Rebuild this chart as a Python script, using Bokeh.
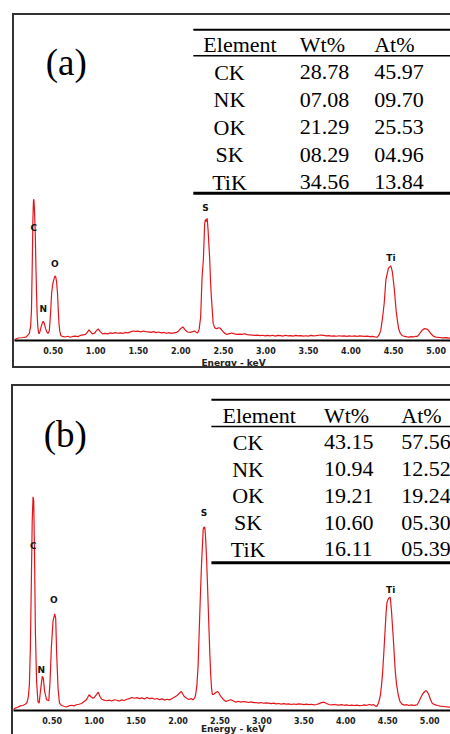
from bokeh.plotting import figure
from bokeh.models import Range1d, FixedTicker, PrintfTickFormatter
from bokeh.layouts import column
from bokeh.embed import file_html
from bokeh.resources import INLINE
from bokeh.core.properties import value

# ---------------- data ----------------
energy_a = [0.035, 0.06, 0.09, 0.12, 0.15, 0.18, 0.20, 0.22, 0.235, 0.245, 0.255, 0.262, 0.268, 0.273,
            0.279, 0.285, 0.29, 0.298, 0.305, 0.312, 0.32, 0.328, 0.335, 0.345, 0.36, 0.375, 0.385,
            0.395, 0.41, 0.425, 0.44, 0.455, 0.47, 0.482, 0.495, 0.51, 0.522, 0.53, 0.54, 0.55, 0.56,
            0.568, 0.578, 0.59, 0.61, 0.64, 0.67, 0.70, 0.73, 0.76, 0.79, 0.82, 0.85, 0.88, 0.905,
            0.92, 0.935, 0.96, 0.99, 1.01, 1.03, 1.05, 1.08, 1.11, 1.14, 1.17, 1.20, 1.23, 1.26, 1.29,
            1.32, 1.35, 1.38, 1.41, 1.44, 1.47, 1.50, 1.53, 1.56, 1.59, 1.62, 1.65, 1.68, 1.71, 1.74,
            1.77, 1.80, 1.83, 1.86, 1.89, 1.92, 1.95, 1.98, 2.00, 2.025, 2.05, 2.08, 2.11, 2.14, 2.16,
            2.18, 2.20, 2.215, 2.233, 2.25, 2.265, 2.28, 2.29, 2.30, 2.31, 2.32, 2.33, 2.34, 2.35,
            2.36, 2.37, 2.38, 2.40, 2.42, 2.44, 2.46, 2.48, 2.50, 2.52, 2.54, 2.57, 2.60, 2.63, 2.66,
            2.69, 2.72, 2.75, 2.78, 2.81, 2.84, 2.87, 2.90, 2.93, 2.96, 2.99, 3.02, 3.05, 3.08, 3.11,
            3.14, 3.17, 3.20, 3.23, 3.26, 3.29, 3.32, 3.35, 3.38, 3.41, 3.44, 3.47, 3.50, 3.53, 3.56,
            3.59, 3.62, 3.65, 3.68, 3.71, 3.74, 3.77, 3.80, 3.83, 3.86, 3.89, 3.92, 3.95, 3.98, 4.01,
            4.04, 4.07, 4.10, 4.13, 4.16, 4.19, 4.22, 4.25, 4.28, 4.31, 4.33, 4.35, 4.37, 4.39, 4.41,
            4.425, 4.44, 4.455, 4.465, 4.475, 4.485, 4.50, 4.51, 4.52, 4.53, 4.545, 4.56, 4.58, 4.60,
            4.63, 4.66, 4.68, 4.71, 4.74, 4.76, 4.78, 4.80, 4.82, 4.84, 4.86, 4.88, 4.90, 4.92, 4.94,
            4.96, 4.98, 5.00, 5.04, 5.08, 5.12, 5.16, 5.20]
counts_a = [1.0, 1.5, 2.5, 2.7, 3.0, 3.4, 5.0, 7.0, 14, 30, 80, 120, 138, 140,
            132, 118, 105, 70, 45, 25, 13, 8, 6.7, 9, 14, 18, 19,
            17, 12, 8.5, 7, 10, 28, 47, 56, 61, 64, 63, 58, 48, 30,
            17, 9, 5, 4, 3.5, 4.2, 3.2, 4.0, 4.4, 3.8, 5.0, 5.5, 6.0, 8.5,
            10.5, 9, 6.5, 7.5, 10, 11.5, 9, 6.5, 7, 6.5, 7.5, 7, 7.8, 7.2, 7.6,
            7.0, 8.0, 7.5, 8.5, 9.4, 9.0, 9.2, 8.6, 9.4, 8.8, 8.5, 8.0, 8.8, 7.8, 8.4,
            7.6, 8.0, 7.2, 7.8, 7.0, 7.6, 8.0, 10, 12, 13.4, 10.5, 8.4, 8.0, 8.8, 9.4,
            8.2, 7.6, 11, 23, 63, 80, 115, 120, 118, 121, 110, 95, 80, 57,
            42, 30, 17, 12.5, 11.7, 12.5, 12.4, 10.5, 8.4, 7.0, 6.0, 6.8, 7.4, 6.6, 6.0,
            6.4, 6.0, 6.7, 5.8, 5.6, 5.4, 5.0, 5.4, 4.8, 5.2, 4.6, 5.0, 4.6, 5.2, 4.4,
            5.0, 4.8, 4.4, 5.2, 4.6, 4.9, 4.4, 5.0, 4.5, 4.8, 4.3, 4.7, 4.4, 5.0, 4.6,
            4.8, 5.2, 5.4, 5.0, 4.6, 4.9, 4.3, 4.6, 4.2, 4.7, 4.3, 4.5, 4.1, 4.6, 4.2,
            4.5, 4.0, 4.6, 4.4, 4.0, 4.3, 3.8, 4.1, 3.6, 3.4, 5.5, 10, 22, 36.7, 60,
            66, 71.7, 73, 74, 72, 68.4, 58, 50, 40, 30, 20, 11.7, 7, 5,
            4, 3.6, 3.4, 3.8, 3.5, 4.2, 4, 6, 8.4, 10.5, 11.7, 11.5, 11, 9, 6.7,
            5, 3.8, 3.4, 3.0, 2.6, 2.8, 2.4, 2.4]

energy_b = [0.03, 0.06, 0.09, 0.12, 0.15, 0.18, 0.20, 0.215, 0.228, 0.24, 0.252, 0.262, 0.272, 0.28,
            0.29, 0.30, 0.314, 0.33, 0.345, 0.362, 0.382, 0.394, 0.41, 0.434, 0.46, 0.475, 0.49,
            0.51, 0.53, 0.542, 0.554, 0.57, 0.587, 0.61, 0.64, 0.67, 0.70, 0.73, 0.76, 0.79, 0.82,
            0.85, 0.88, 0.91, 0.94, 0.96, 0.98, 1.00, 1.03, 1.05, 1.07, 1.09, 1.12, 1.15, 1.18, 1.21,
            1.24, 1.27, 1.30, 1.33, 1.36, 1.39, 1.42, 1.45, 1.48, 1.51, 1.54, 1.57, 1.60, 1.63, 1.66,
            1.69, 1.72, 1.75, 1.78, 1.81, 1.84, 1.87, 1.90, 1.93, 1.96, 1.99, 2.02, 2.04, 2.07, 2.10,
            2.13, 2.16, 2.18, 2.20, 2.21, 2.225, 2.24, 2.255, 2.27, 2.28, 2.29, 2.30, 2.31, 2.32, 2.33,
            2.34, 2.35, 2.36, 2.37, 2.38, 2.39, 2.40, 2.41, 2.43, 2.45, 2.47, 2.49, 2.51, 2.54, 2.57,
            2.60, 2.63, 2.66, 2.69, 2.72, 2.75, 2.78, 2.81, 2.84, 2.87, 2.90, 2.93, 2.96, 2.99, 3.02,
            3.05, 3.08, 3.11, 3.14, 3.17, 3.20, 3.23, 3.26, 3.29, 3.32, 3.35, 3.38, 3.41, 3.44, 3.47,
            3.50, 3.53, 3.56, 3.59, 3.62, 3.65, 3.68, 3.71, 3.74, 3.77, 3.80, 3.83, 3.86, 3.89, 3.92,
            3.95, 3.98, 4.01, 4.04, 4.07, 4.10, 4.13, 4.16, 4.19, 4.22, 4.25, 4.28, 4.31, 4.33, 4.35,
            4.37, 4.39, 4.41, 4.425, 4.44, 4.455, 4.47, 4.48, 4.49, 4.50, 4.51, 4.52, 4.53, 4.545,
            4.555, 4.566, 4.578, 4.59, 4.605, 4.625, 4.645, 4.67, 4.70, 4.73, 4.75, 4.78, 4.81, 4.85,
            4.87, 4.89, 4.91, 4.93, 4.95, 4.96, 4.975, 4.99, 5.01, 5.03, 5.06, 5.09, 5.13, 5.17,
            5.21, 5.27]
counts_b = [0.7, 2.4, 3.2, 4.6, 5.0, 6.3, 8.0, 13, 25, 62, 129, 189, 213, 209,
            152, 79, 29, 9, 7.3, 20.7, 34, 32.3, 19, 10.7, 9.7, 30, 62.3,
            89, 96.3, 92, 55.7, 22.3, 7.3, 5.0, 4.2, 3.5, 4.6, 5.2, 4.6, 5.7, 6.2,
            7.0, 9.0, 11, 15.7, 14, 12.3, 12.8, 16, 18.3, 14, 11.2, 10.4, 9.7, 10.4, 9.5,
            10.7, 10.2, 9.4, 10.6, 10.0, 11.2, 11.8, 13.0, 12.2, 12.8, 11.9, 12.6, 11.4, 13.0, 11.8,
            12.4, 11.2, 12.0, 10.8, 11.6, 10.4, 11.2, 10.6, 12.0, 13.5, 15, 17.5, 19, 14.5, 12.3,
            11.0, 11.8, 10.7, 12.5, 15.7, 25, 45.7, 85, 122.3, 145, 162.3, 180.7, 183, 182.3, 170.7,
            152, 129, 104, 79, 55, 35.7, 22, 15.7, 16.5, 18, 19, 17, 14, 11, 9,
            10, 10.7, 9.5, 8.3, 9.2, 8.4, 9.0, 8.6, 8.0, 8.6, 7.8, 8.0, 7.4, 8.0, 7.2,
            7.6, 7.3, 6.8, 7.4, 6.6, 7.0, 6.4, 6.8, 6.3, 6.6, 6.0, 6.5, 6.1, 6.6, 6.3,
            5.9, 6.4, 5.8, 6.2, 5.6, 6.0, 6.8, 7.8, 8.3, 7.0, 6.0, 5.6, 6.0, 5.7, 5.4,
            5.9, 5.2, 5.6, 5.0, 5.4, 5.0, 5.3, 4.8, 5.0, 5.6, 5.2, 6.0, 5.4, 6.0, 4.6,
            4.0, 7.5, 14, 24, 39, 60, 82.3, 97, 107.3, 110, 111.7, 112.5, 113, 99,
            86, 72.3, 55, 39, 26, 15.7, 9, 6.3, 5.4, 5.8, 5.0, 5.6, 5.2, 5.7,
            8.5, 12.3, 15.5, 18, 19.5, 19.7, 18, 15.7, 11, 7.3, 5.8, 5.0, 4.4, 4.0,
            3.6, 3.3]

peak_names = ["C", "N", "O", "S", "Ti"]
peak_label_energy_a = [0.273, 0.384, 0.52, 2.29, 4.47]
peak_label_height_a = [111, 31, 75.7, 131.7, 81.7]
peak_label_energy_b = [0.275, 0.37, 0.52, 2.31, 4.535]
peak_label_height_b = [164, 40.7, 109.7, 196.7, 119.7]

elements = ["CK", "NK", "OK", "SK", "TiK"]
wt_a = [28.78, 7.08, 21.29, 8.29, 34.56]
at_a = [45.97, 9.70, 25.53, 4.96, 13.84]
wt_b = [43.15, 10.94, 19.21, 10.60, 16.11]
at_b = [57.56, 12.52, 19.24, 5.30, 5.39]
table_header = ["Element", "Wt%", "At%"]

tick_values = [0.5, 1.0, 1.5, 2.0, 2.5, 3.0, 3.5, 4.0, 4.5, 5.0]
axis_title = "Energy - keV"

# ---------------- layout constants ----------------
BW = 2  # css border width
geom_a = dict(cw=436, ch=351, fh=322, mb=29, xr=(0.0455, 5.193), margin=(13, 0, 0, 12), bottom=True,
              lab_standoff=6, title_standoff=1,
              tag="(a)", tag_x=31, tag_y=46.5,
              top_line=14, head_y=28.3, head_line=40, row0=56, step=27.25, bot_line=176,
              left=178, elem_head=188, elem_x=214, wt_x=284, at_x=358)
geom_b = dict(cw=437, ch=348, fh=323, mb=25, xr=(0.039, 5.272), margin=(16, 0, 0, 11), bottom=False,
              lab_standoff=6, title_standoff=-3,
              tag="(b)", tag_x=30, tag_y=48,
              top_line=13.3, head_y=29, head_line=40, row0=55.7, step=26.65, bot_line=175.7,
              left=197, elem_head=208, elem_x=233.5, wt_x=309, at_x=386)

RED = "#e3151b"
SERIF = value("Liberation Serif")
SANS = value("DejaVu Sans")


def make_panel(energy, counts, lbl_e, lbl_h, wt, at, g):
    w = g["cw"] + BW
    h = g["ch"] + BW * (2 if g["bottom"] else 1)
    p = figure(width=w, height=h, output_backend="svg", toolbar_location=None,
               x_range=Range1d(*g["xr"]), y_range=Range1d(0, g["fh"]),
               y_axis_location=None, min_border_left=0, min_border_right=0, min_border_top=0,
               min_border_bottom=g["mb"], outline_line_color=None,
               background_fill_color="white", border_fill_color="white")
    p.grid.visible = False
    p.extra_x_ranges = {"tx": Range1d(0, g["cw"])}
    p.extra_y_ranges = {"ty": Range1d(g["fh"], 0)}

    # spectrum
    p.line(energy, counts, line_color=RED, line_width=1.2)
    p.text(x=lbl_e, y=lbl_h, text=peak_names, text_font=SANS, text_font_style="bold",
           text_font_size="9px", text_color="#111", text_align="center", text_baseline="middle")

    # inset table
    n = len(elements)
    rows_y = [g["row0"] + i * g["step"] for i in range(n)]
    right = g["cw"] + 5
    p.segment(x0=[g["left"]], y0=[g["top_line"]], x1=[right], y1=[g["top_line"]],
              line_color="black", line_width=2, x_range_name="tx", y_range_name="ty")
    p.segment(x0=[g["left"]], y0=[g["head_line"]], x1=[right], y1=[g["head_line"]],
              line_color="black", line_width=1.5, x_range_name="tx", y_range_name="ty")
    p.segment(x0=[g["left"]], y0=[g["bot_line"]], x1=[right], y1=[g["bot_line"]],
              line_color="black", line_width=3, x_range_name="tx", y_range_name="ty")
    p.text(x=[g["elem_head"], g["wt_x"], g["at_x"]], y=[g["head_y"]] * 3, text=table_header,
           text_font=SERIF, text_font_size="22px", text_color="black", text_align="left",
           text_baseline="middle", x_range_name="tx", y_range_name="ty")
    p.text(x=[g["elem_x"]] * n, y=rows_y, text=elements, text_font=SERIF, text_font_size="22px",
           text_color="black", text_align="center", text_baseline="middle",
           x_range_name="tx", y_range_name="ty")
    p.text(x=[g["wt_x"]] * n, y=rows_y, text=[f"{v:05.2f}" for v in wt], text_font=SERIF,
           text_font_size="22px", text_color="black", text_align="left", text_baseline="middle",
           x_range_name="tx", y_range_name="ty")
    p.text(x=[g["at_x"]] * n, y=rows_y, text=[f"{v:05.2f}" for v in at], text_font=SERIF,
           text_font_size="22px", text_color="black", text_align="left", text_baseline="middle",
           x_range_name="tx", y_range_name="ty")
    p.text(x=[g["tag_x"]], y=[g["tag_y"]], text=[g["tag"]], text_font=SERIF, text_font_size="37px",
           text_color="black", text_align="left", text_baseline="middle",
           x_range_name="tx", y_range_name="ty")

    ax = p.xaxis[0]
    ax.ticker = FixedTicker(ticks=tick_values)
    ax.formatter = PrintfTickFormatter(format="%.2f")
    ax.axis_line_width = 2
    ax.axis_line_color = "black"
    ax.major_tick_in = 0
    ax.major_tick_out = 0
    ax.minor_tick_in = 0
    ax.minor_tick_out = 0
    ax.major_label_standoff = g["lab_standoff"]
    ax.major_label_text_font = "DejaVu Sans"
    ax.major_label_text_font_style = "bold"
    ax.major_label_text_font_size = "8px"
    ax.major_label_text_color = "#222"
    ax.axis_label = axis_title
    ax.axis_label_standoff = g["title_standoff"]
    ax.axis_label_text_font = "DejaVu Sans"
    ax.axis_label_text_font_style = "bold"
    ax.axis_label_text_font_size = "9px"
    ax.axis_label_text_color = "#222"

    border = f"{BW}px solid #333"
    st = {"border-left": border, "border-top": border}
    if g["bottom"]:
        st["border-bottom"] = border
    p.styles = st
    p.margin = g["margin"]
    return p


p1 = make_panel(energy_a, counts_a, peak_label_energy_a, peak_label_height_a, wt_a, at_a, geom_a)
p2 = make_panel(energy_b, counts_b, peak_label_energy_b, peak_label_height_b, wt_b, at_b, geom_b)

layout = column(p1, p2, spacing=0)
open("out.html", "w").write(file_html(layout, INLINE))
